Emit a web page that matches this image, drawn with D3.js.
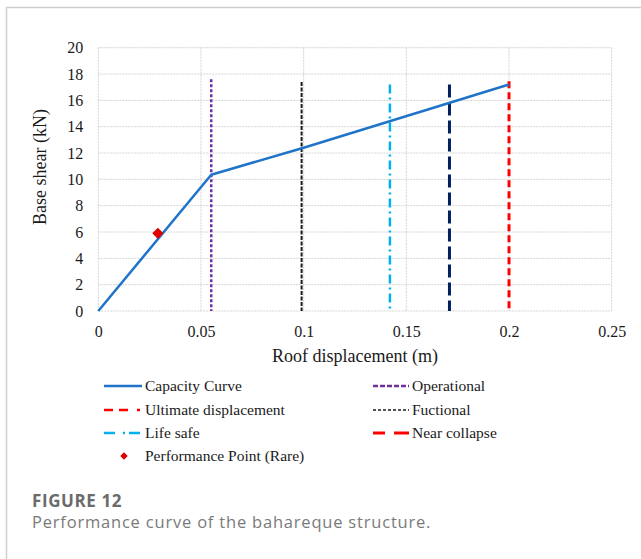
<!DOCTYPE html>
<html>
<head>
<meta charset="utf-8">
<script src="https://cdn.jsdelivr.net/npm/d3@7"></script>
<style>
  body { margin: 0; background: #fff; }
  svg { display: block; }
</style>
</head>
<body>
<svg id="chart"></svg>
<script>
// Chart data
var xTicks = [0, 0.05, 0.1, 0.15, 0.2, 0.25];
var yTicks = [0, 2, 4, 6, 8, 10, 12, 14, 16, 18, 20];

// Capacity curve (roof displacement m, base shear kN)
var curveX = [0, 0.055, 0.1, 0.2];
var curveY = [0, 10.35, 12.4, 17.2];

// Limit state lines
var limitNames = ["Operational", "Fuctional", "Life safe", "Near collapse", "Ultimate displacement"];
var limitX = [0.055, 0.099, 0.142, 0.171, 0.2];
var limitTop = [17.6, 17.4, 17.2, 17.2, 17.45];

// Performance point
var perfX = [0.029];
var perfY = [5.9];

var legendNames = ["Capacity Curve", "Operational", "Ultimate displacement", "Fuctional",
    "Life safe", "Near collapse", "Performance Point (Rare)"];

var W = 641, H = 559;
var margin = { top: 47.7, left: 98.3, right: 29.3, bottom: 248 };
var width = W - margin.left - margin.right;
var height = H - margin.top - margin.bottom;
var serif = "'Liberation Serif', 'Times New Roman', serif";
var sans = "'Open Sans', 'Noto Sans', sans-serif";

// line styles (chart lines)
var styles = {
    "Capacity Curve": { color: "#1f74c9", width: 2.5, dash: null },
    "Operational": { color: "#7030a0", width: 2.5, dash: "3,2" },
    "Fuctional": { color: "#1a1a1a", width: 2, dash: "4,1.5" },
    "Life safe": { color: "#00b0f0", width: 2.5, dash: "9,4,2,4" },
    "Near collapse": { color: "#002060", width: 3, dash: "13,5" },
    "Ultimate displacement": { color: "#ff0000", width: 3, dash: "7,4" }
};

// legend sample styles (the legend uses its own patterns)
var legendStyles = {
    "Capacity Curve": { color: "#1f74c9", width: 2.5, dash: null },
    "Operational": { color: "#7030a0", width: 2.5, dash: "5,2" },
    "Ultimate displacement": { color: "#ff0000", width: 2.5, dash: "9,6,9,9,3,40" },
    "Fuctional": { color: "#1a1a1a", width: 1.5, dash: "3,2" },
    "Life safe": { color: "#00b0f0", width: 2.5, dash: "11,8,2,4,11,40" },
    "Near collapse": { color: "#ff0000", width: 3, dash: "12,9,16,40" }
};

var svg = d3.select("#chart").attr("width", W).attr("height", H);

// outer frame (left and top only)
svg.append("path")
    .attr("d", "M6.5," + H + "V7.5H" + W)
    .attr("fill", "none")
    .attr("stroke", "#cfcfcf")
    .attr("stroke-width", 1.5);

var g = svg.append("g")
    .attr("transform", "translate(" + margin.left + "," + margin.top + ")");

var x = d3.scaleLinear().domain([0, 0.25]).range([0, width]);
var y = d3.scaleLinear().domain([0, 20]).range([height, 0]);

// Grid
g.append("g").selectAll("line")
    .data(yTicks).enter().append("line")
    .attr("x1", 0).attr("x2", width)
    .attr("y1", function(d) { return y(d); })
    .attr("y2", function(d) { return y(d); })
    .attr("stroke", "#d4d4d4").attr("stroke-width", 1)
    .attr("stroke-dasharray", "2,1");

g.append("g").selectAll("line")
    .data(xTicks).enter().append("line")
    .attr("y1", 0).attr("y2", height)
    .attr("x1", function(d) { return x(d); })
    .attr("x2", function(d) { return x(d); })
    .attr("stroke", "#d4d4d4").attr("stroke-width", 1)
    .attr("stroke-dasharray", "2,1");

// Axes (labels only)
var yAxis = g.append("g")
    .call(d3.axisLeft(y).tickValues(yTicks).tickSize(0).tickPadding(15).tickFormat(d3.format("d")));
var xAxis = g.append("g")
    .attr("transform", "translate(0," + height + ")")
    .call(d3.axisBottom(x).tickValues(xTicks).tickSize(0).tickPadding(15).tickFormat(function(d) { return String(d); }));

[xAxis, yAxis].forEach(function(a) {
    a.select(".domain").remove();
    a.selectAll("text")
        .attr("font-family", serif)
        .attr("font-size", "16px")
        .attr("fill", "#1a1a1a");
});

// Limit state lines
limitNames.forEach(function(name, i) {
    var s = styles[name];
    g.append("line")
        .attr("x1", x(limitX[i])).attr("x2", x(limitX[i]))
        .attr("y1", y(limitTop[i])).attr("y2", y(0))
        .attr("stroke", s.color)
        .attr("stroke-width", s.width)
        .attr("stroke-dasharray", s.dash);
});

// Capacity curve
var curve = curveX.map(function(d, i) { return [d, curveY[i]]; });
g.append("path")
    .datum(curve)
    .attr("fill", "none")
    .attr("stroke", styles["Capacity Curve"].color)
    .attr("stroke-width", 2.5)
    .attr("stroke-linejoin", "round")
    .attr("d", d3.line()
        .x(function(d) { return x(d[0]); })
        .y(function(d) { return y(d[1]); }));

// Performance point
g.selectAll("path.pp")
    .data(perfX).enter().append("path")
    .attr("class", "pp")
    .attr("d", d3.symbol().type(d3.symbolSquare).size(62))
    .attr("transform", function(d, i) {
        return "translate(" + x(d) + "," + y(perfY[i]) + ")rotate(45)";
    })
    .attr("fill", "#e00000");

// Axis titles
svg.append("text")
    .attr("text-anchor", "middle")
    .attr("transform", "translate(46,167)rotate(-90)")
    .attr("font-family", serif)
    .attr("font-size", "18px")
    .attr("fill", "#1a1a1a")
    .text("Base shear (kN)");

svg.append("text")
    .attr("text-anchor", "middle")
    .attr("x", margin.left + width / 2)
    .attr("y", 362)
    .attr("font-family", serif)
    .attr("font-size", "18px")
    .attr("fill", "#1a1a1a")
    .text("Roof displacement (m)");

// Legend
var colX = [104, 373];
var rowY = [386, 410, 433, 456];
var sampleW = [38, 36];

legendNames.forEach(function(name, i) {
    var col = i % 2, row = Math.floor(i / 2);
    var lx = colX[col], ly = rowY[row];
    var item = svg.append("g");
    if (name === "Performance Point (Rare)") {
        item.append("path")
            .attr("d", d3.symbol().type(d3.symbolSquare).size(28))
            .attr("transform", "translate(124," + ly + ")rotate(45)")
            .attr("fill", "#e00000");
    } else {
        var s = legendStyles[name];
        item.append("line")
            .attr("x1", lx).attr("x2", lx + sampleW[col])
            .attr("y1", ly).attr("y2", ly)
            .attr("stroke", s.color)
            .attr("stroke-width", s.width)
            .attr("stroke-dasharray", s.dash);
    }
    item.append("text")
        .attr("x", lx + sampleW[col] + 3)
        .attr("y", ly)
        .attr("dy", "0.35em")
        .attr("font-family", serif)
        .attr("font-size", "15.5px")
        .attr("fill", "#1a1a1a")
        .text(name);
});

// Caption
svg.append("text")
    .attr("x", 32).attr("y", 507)
    .attr("font-family", sans)
    .attr("font-weight", "bold")
    .attr("font-size", "17px")
    .attr("letter-spacing", "0.6px")
    .attr("fill", "#6b6b6b")
    .text("FIGURE 12");

svg.append("text")
    .attr("x", 32).attr("y", 528)
    .attr("font-family", sans)
    .attr("font-size", "16.5px")
    .attr("letter-spacing", "0.8px")
    .attr("fill", "#7a7a7a")
    .text("Performance curve of the bahareque structure.");
</script>
</body>
</html>
